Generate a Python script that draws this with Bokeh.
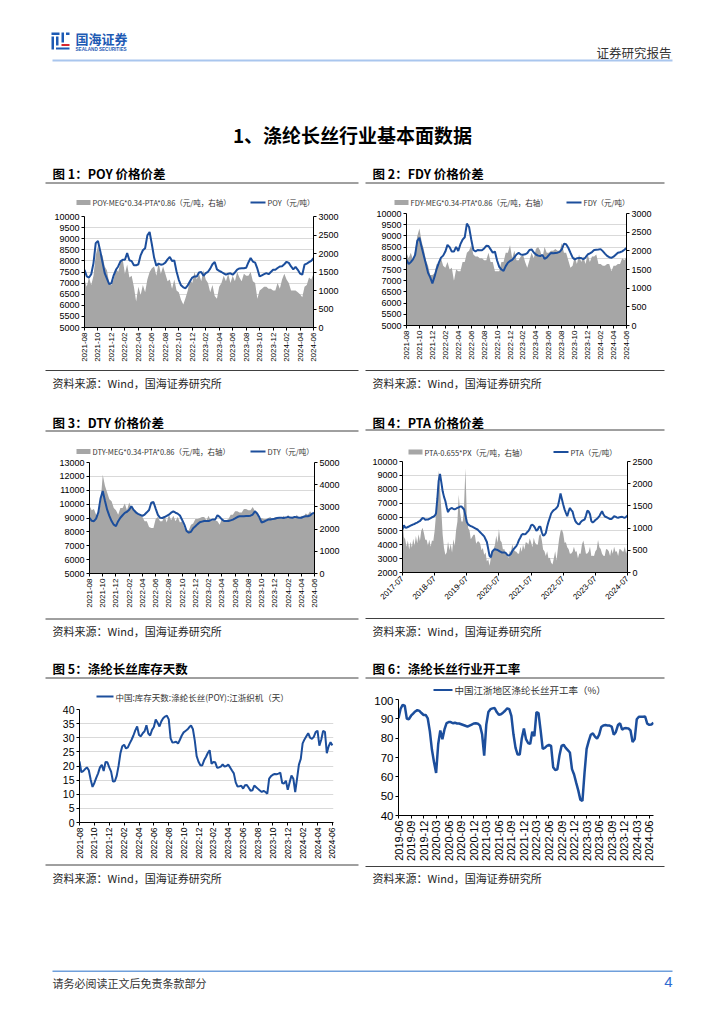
import math
import numpy as np
from bokeh.plotting import figure
from bokeh.models import Range1d, LinearAxis, FixedTicker, Spacer
from bokeh.layouts import column, row
from bokeh.embed import file_html
from bokeh.resources import INLINE
from bokeh.core.properties import value

# ---------------- data ----------------
# charts 1,2,3,5: x = months since 2021-08 ; chart 4: months since 2017-07 ; chart 6: months since 2019-06
c1_labels = ["2021-08", "2021-10", "2021-12", "2022-02", "2022-04", "2022-06", "2022-08", "2022-10", "2022-12",
             "2023-02", "2023-04", "2023-06", "2023-08", "2023-10", "2023-12", "2024-02", "2024-04", "2024-06"]
c4_labels = ["2017-07", "2018-07", "2019-07", "2020-07", "2021-07", "2022-07", "2023-07", "2024-07"]
c6_labels = ["2019-06", "2019-09", "2019-12", "2020-03", "2020-06", "2020-09", "2020-12", "2021-03", "2021-06",
             "2021-09", "2021-12", "2022-03", "2022-06", "2022-09", "2022-12", "2023-03", "2023-06", "2023-09",
             "2023-12", "2024-03", "2024-06"]

y_left_12 = [5000, 5500, 6000, 6500, 7000, 7500, 8000, 8500, 9000, 9500, 10000]
y_right_12 = [0, 500, 1000, 1500, 2000, 2500, 3000]
y_left_3 = [5000, 6000, 7000, 8000, 9000, 10000, 11000, 12000, 13000]
y_right_3 = [0, 1000, 2000, 3000, 4000, 5000]
y_left_4 = [2000, 3000, 4000, 5000, 6000, 7000, 8000, 9000, 10000]
y_right_4 = [0, 500, 1000, 1500, 2000, 2500]
y_5 = [0, 5, 10, 15, 20, 25, 30, 35, 40]
y_6 = [40, 50, 60, 70, 80, 90, 100]

# POY price (left axis) and spread (right axis), every 1/3 month
poy_price = [7600, 7300, 7250, 7400, 7900, 8800, 8900, 8450, 7950, 7450,
             7200, 6950, 7000, 7350, 7600, 7750, 7980, 8050, 8050, 8350,
             8030, 7990, 7800, 7800, 7850, 8250, 8480, 8570, 9150, 9300,
             8750, 8150, 7780, 7880, 7830, 7850, 7920, 8070, 8180, 8000,
             8020, 7520, 7150, 6900, 6810, 6770, 6900, 7080, 7250, 7300,
             7300, 7480, 7500, 7330, 7450, 7510, 7650, 7850, 7950, 7620,
             7550, 7500, 7440, 7380, 7420, 7440, 7380, 7480, 7610, 7660,
             7670, 7670, 7690, 7930, 8130, 7970, 7920, 7650, 7300, 7350,
             7400, 7450, 7400, 7500, 7600, 7600, 7680, 7750, 7760, 7850,
             7960, 7910, 7750, 7620, 7730, 7600, 7430, 7380, 7830, 7880,
             7940, 8000, 8120]
poy_spread = [1300, 1100, 1350, 1150, 1400, 1950, 2200, 1950, 1950, 1650,
              1550, 1200, 1150, 1300, 1600, 1500, 1750, 1850, 1450, 1700,
              1350, 1400, 1100, 700, 1100, 880, 1150, 950, 1300, 1500,
              1600, 1650, 1400, 1750, 1450, 1650, 1450, 1250, 1300, 1050,
              1300, 1000, 950, 750, 620, 800, 1000, 1300, 1200, 1500,
              1300, 1450, 1250, 1550, 1300, 1200, 950, 1150, 850, 780,
              1100, 1200, 1400, 1250, 1450, 1200, 1400, 1250, 1500, 1350,
              1250, 1450, 1400, 1400, 1500, 1250, 1200, 780, 1000, 1050,
              1100, 1100, 1050, 1050, 1000, 1000, 1200, 1050, 1300, 1450,
              1300, 1200, 1000, 1000, 1000, 950, 900, 820, 1100, 1150,
              1350, 1300, 1450]

fdy_price = [7940, 7740, 7830, 7950, 8150, 8780, 8920, 8500, 8130, 7750,
             7350, 7150, 6880, 7180, 7530, 7810, 8030, 8120, 8300, 8600,
             8500, 8300, 8300, 8510, 8330, 8630, 8830, 8940, 9550, 9400,
             8850, 8370, 8310, 8370, 8360, 8360, 8440, 8560, 8550, 8400,
             8250, 8300, 7900, 7620, 7500, 7440, 7650, 7800, 7880, 7930,
             8040, 8170, 8240, 8170, 8160, 8180, 8230, 8370, 8400, 8260,
             8170, 8120, 8100, 8150, 7980, 8030, 8140, 8240, 8230, 8240,
             8250, 8290, 8400, 8650, 8630, 8470, 8250, 8040, 7950, 8000,
             8010, 8010, 7960, 8040, 8170, 8220, 8280, 8370, 8380, 8390,
             8410, 8320, 8210, 8110, 8050, 8020, 8070, 8160, 8250, 8270,
             8310, 8380, 8460]
fdy_spread = [1950, 1800, 1950, 1750, 2000, 2400, 2600, 2250, 2050, 1750,
              1600, 1350, 1350, 1400, 1650, 1650, 1800, 1600, 1550, 1700,
              1500, 1550, 1200, 1500, 1450, 1450, 1700, 1700, 1950, 2000,
              2150, 1900, 1850, 1850, 1800, 1800, 1750, 1750, 1950, 1700,
              1700, 1450, 1450, 1450, 1700, 1700, 1950, 1950, 2150, 1800,
              2000, 1750, 1750, 1850, 1900, 1700, 1550, 1750, 1950, 1800,
              2050, 2100, 2000, 1800, 2100, 1950, 1950, 2000, 2000, 2050,
              2000, 2000, 2200, 1950, 1950, 1750, 1550, 1600, 1850, 1650,
              1900, 1700, 1850, 1650, 1900, 1700, 1850, 1850, 1900, 1650,
              1650, 1600, 1600, 1650, 1650, 1450, 1600, 1600, 1650, 1650,
              1800, 1750, 1850]

dty_price = [9010, 8800, 8770, 8950, 9400, 10400, 10950, 10250, 9600, 9150,
             8780, 8520, 8420, 8770, 9020, 9200, 9370, 9450, 9600, 9850,
             9580, 9400, 9300, 9230, 9150, 9250, 9410, 9580, 10100, 10150,
             9680, 9230, 9010, 9000, 9070, 9150, 9240, 9380, 9470, 9380,
             9310, 9180, 8860, 8520, 8060, 7950, 8010, 8260, 8400, 8560,
             8690, 8740, 8780, 8790, 8780, 8850, 8900, 8900, 9200, 9080,
             8900, 8780, 8780, 8780, 8830, 8880, 8970, 9070, 9130, 9130,
             9130, 9140, 9150, 9170, 9250, 9480, 9330, 9050, 8680, 8730,
             8810, 8890, 8900, 8920, 8950, 9000, 9010, 9010, 9000, 9030,
             9080, 9030, 9020, 9080, 9050, 9020, 9010, 9090, 9130, 9130,
             9180, 9330, 9370]
dty_spread = [3050, 2850, 2900, 2650, 2650, 3150, 4450, 3950, 3650, 3350,
              3250, 2950, 2850, 2650, 2950, 2950, 3150, 2850, 3200, 2950,
              2850, 2850, 2650, 2650, 2550, 2350, 2350, 2100, 2050, 2050,
              2450, 2550, 2350, 2350, 2600, 2300, 2650, 2400, 2600, 2350,
              2550, 2300, 2350, 2050, 1950, 1950, 2200, 2250, 2450, 2450,
              2500, 2550, 2550, 2400, 2600, 2350, 2400, 2400, 2350, 2200,
              2450, 2400, 2400, 2450, 2650, 2650, 2800, 2800, 2750, 2750,
              2900, 2900, 2850, 2850, 3000, 2800, 2750, 2450, 2500, 2450,
              2450, 2500, 2550, 2400, 2550, 2500, 2500, 2450, 2600, 2450,
              2650, 2500, 2550, 2500, 2650, 2450, 2600, 2550, 2700, 2650,
              2800, 2650, 2850]

# PTA, every 1/2 month from 2017-07
pta_price = [5110, 5400, 5250, 5230, 5280, 5330, 5380, 5420, 5470, 5500,
             5560, 5600, 5660, 5710, 5820, 5930, 5900, 5800, 5820, 5820,
             5870, 5920, 5980, 6020, 6080, 6250, 7300, 8600, 9100, 8500,
             7850, 7450, 7150, 6700, 6350, 6540, 6620, 6650, 6580, 6560,
             6600, 6650, 6700, 6750, 6760, 6650, 6540, 6100, 5650, 5470,
             5400, 5350, 5300, 5250, 5200, 5150, 5100, 5000, 4900, 4800,
             4700, 4600, 4400, 4200, 3700, 3200, 3100, 3500, 3620, 3680,
             3650, 3620, 3560, 3500, 3450, 3440, 3440, 3420, 3300, 3220,
             3250, 3350, 3550, 3680, 3800, 3900, 4100, 4350, 4520, 4720,
             4780, 4750, 4780, 4900, 4990, 5150, 5400, 5450, 5360, 5200,
             5000, 5100, 5300, 5300, 4900, 4650, 4700, 4850, 5300, 5650,
             5950, 6250, 6400, 6500, 6560, 6650, 6780, 7200, 7700, 7300,
             6900, 6550, 6300, 6060, 6400, 6650, 6500, 6380, 6000, 5720,
             5580, 5500, 5470, 5620, 5720, 5780, 5820, 6100, 6450, 6400,
             6200, 5700, 5600, 5680, 5780, 5850, 5950, 6060, 6250, 6420,
             6200, 6050, 6000, 5950, 5900, 5850, 5850, 5950, 6050, 6020,
             5970, 5950, 5980, 6000, 6010, 5970, 5950, 6020, 6100]
pta_spread = [1250, 800, 750, 580, 720, 520, 690, 560, 760, 610,
              820, 660, 860, 710, 940, 1010, 890, 740, 740, 610,
              740, 580, 720, 710, 940, 1300, 1700, 2300, 1900, 1400,
              850, 550, 400, 450, 700, 500, 650, 450, 750, 600,
              950, 1150, 1750, 1350, 1150, 1150, 1550, 2350, 1300, 1000,
              950, 750, 800, 850, 850, 650, 700, 700, 650, 500,
              550, 400, 450, 250, 300, 150, 330, 420, 530, 620,
              830, 670, 980, 720, 680, 520, 530, 420, 430, 320,
              480, 470, 630, 520, 480, 470, 430, 420, 580, 470,
              630, 520, 680, 670, 630, 770, 680, 570, 780, 670,
              630, 620, 830, 870, 730, 520, 480, 370, 480, 320,
              330, 220, 180, 320, 480, 270, 530, 770, 930, 970,
              880, 670, 680, 570, 530, 420, 430, 470, 580, 470,
              480, 320, 430, 420, 630, 720, 580, 420, 430, 470,
              580, 370, 380, 370, 480, 520, 730, 570, 530, 420,
              380, 370, 530, 520, 480, 370, 530, 420, 580, 470,
              480, 370, 530, 520, 480, 470, 580, 420, 550]

# inventory days, every 1/4 month from 2021-08
inv_days = [21.6, 17.8, 18.2, 18.9, 19.5, 18.5, 15.2, 12.6, 14.0, 15.8,
            17.4, 19.5, 20.4, 18.2, 21.4, 21.3, 19.5, 18.0, 14.5, 14.6,
            16.5, 20.0, 24.5, 27.0, 27.5, 26.2, 26.6, 28.0, 29.3, 30.8,
            32.6, 34.0, 31.0, 30.5, 31.6, 32.3, 34.4, 31.5, 30.8, 32.8,
            33.8, 36.5, 35.3, 34.0, 35.8, 36.9, 37.5, 37.8, 36.5, 29.8,
            28.3, 28.4, 28.6, 27.9, 29.3, 30.8, 31.9, 32.4, 32.9, 33.7,
            34.4, 33.0, 29.0, 23.5, 21.5, 20.3, 20.2, 22.0, 23.2, 24.6,
            25.6, 20.8, 21.4, 21.3, 19.4, 19.5, 19.8, 20.6, 19.8, 20.0,
            20.5, 19.5, 18.4, 17.4, 14.2, 12.7, 12.8, 13.0, 12.0, 13.2,
            13.3, 12.3, 11.2, 11.4, 13.1, 12.5, 11.9, 11.3, 10.8, 11.2,
            10.8, 10.2, 15.5, 16.4, 16.9, 17.2, 17.1, 17.3, 17.6, 14.0,
            13.8, 14.8, 11.6, 14.2, 16.6, 15.5, 10.8, 15.5, 20.5, 22.5,
            28.0, 29.4, 30.5, 31.6, 30.0, 29.6, 30.3, 32.0, 32.5, 27.2,
            29.3, 32.4, 32.1, 24.5, 27.0, 28.4, 27.3]

# operating rate, every 1/2 month from 2019-06
op_rate = [90.3, 95.2, 97.2, 96.8, 90.0, 89.8, 91.6, 92.7, 93.8, 94.5,
           94.1, 93.0, 92.0, 92.0, 90.2, 83.5, 74.0, 67.5, 62.0, 77.0,
           84.0, 79.5, 84.5, 87.8, 88.3, 88.3, 87.7, 88.0, 87.6, 87.6,
           87.2, 86.8, 86.4, 86.0, 86.5, 87.0, 87.6, 87.7, 87.5, 86.5,
           82.0, 71.0, 87.0, 93.5, 95.0, 95.4, 95.6, 93.5, 92.1, 92.4,
           93.2, 94.2, 95.4, 95.0, 91.5, 82.0, 75.0, 71.5, 71.5, 80.0,
           85.0, 79.5, 77.5, 77.0, 83.3, 81.0, 93.5, 93.0, 84.0, 74.5,
           75.0, 76.0, 76.5, 76.0, 65.0, 63.5, 63.9, 71.0, 76.0, 76.6,
           75.0, 73.8, 72.6, 64.0, 61.2, 57.0, 53.0, 48.2, 47.5, 62.0,
           74.5, 78.5, 81.8, 82.5, 80.8, 79.8, 81.8, 85.8, 86.6, 86.8,
           86.6, 86.5, 86.0, 81.8, 83.2, 86.8, 87.7, 84.4, 85.1, 85.2,
           85.0, 84.0, 78.0, 79.5, 89.8, 91.1, 91.1, 91.1, 91.2, 87.5,
           86.9, 87.1, 88.0]

# ---------------- styling helpers ----------------
CJK = "Noto Sans CJK SC"
LAT = "Liberation Sans"
BLUE = "#1C4E9C"
GRAY = "#A6A6A6"
TXT = "#262626"


def no_align(p):
    try:
        p.frame_align = False
    except Exception:
        pass


def canvas(x0, y0, w, h):
    p = figure(width=w, height=h, x_range=Range1d(x0, x0 + w), y_range=Range1d(y0 + h, y0),
               output_backend="svg", toolbar_location=None, x_axis_type=None, y_axis_type=None,
               min_border_left=0, min_border_right=0, min_border_top=0, min_border_bottom=0)
    p.outline_line_color = None
    p.background_fill_color = "white"
    p.border_fill_color = "white"
    no_align(p)
    return p


def txt(p, x, y, s, size, color=TXT, bold=False, align="left", font=CJK):
    p.text(x=[x], y=[y], text=[s], text_font=value(font), text_font_size=f"{size}px",
           text_color=color, text_font_style="bold" if bold else "normal",
           text_align=align, text_baseline="middle")


def hline(p, x0, x1, y, color="#404040", width=1):
    p.segment(x0=[x0], y0=[y], x1=[x1], y1=[y], line_color=color, line_width=width)


def box(p, x0, y0, x1, y1, color):
    p.quad(left=[x0], right=[x1], top=[y0], bottom=[y1], fill_color=color, line_color=None)


def leg_area(p, x, y, label, size=7.5):
    box(p, x, y - 2.5, x + 14, y + 2.5, GRAY)
    txt(p, x + 16, y, label, size, "#333333")


def leg_line(p, x, y, label, w=15, size=7.5):
    p.segment(x0=[x], y0=[y], x1=[x + w], y1=[y], line_color=BLUE, line_width=2.2)
    txt(p, x + w + 2, y, label, size, "#333333")


def style_ax(ax, size):
    ax.axis_line_color = "#000000"
    ax.axis_line_width = 1
    ax.major_tick_line_color = "#000000"
    ax.major_tick_in = 0
    ax.major_tick_out = 3
    ax.minor_tick_line_color = None
    ax.major_label_text_font = LAT
    ax.major_label_text_font_size = size
    ax.major_label_text_color = "#000000"
    ax.major_label_standoff = 2


def base_chart(w, h, mb, xr, ylist, xticks, xlabels, orient, xsize, ysize, grid=True):
    p = figure(width=w, height=h, x_range=Range1d(*xr), y_range=Range1d(ylist[0], ylist[-1]),
               output_backend="svg", toolbar_location=None,
               min_border_left=mb[0], min_border_right=mb[1], min_border_top=mb[2], min_border_bottom=mb[3])
    no_align(p)
    p.outline_line_color = None
    p.background_fill_color = "white"
    p.border_fill_color = "white"
    p.xgrid.visible = False
    yt = FixedTicker(ticks=ylist)
    p.yaxis.ticker = yt
    p.ygrid.ticker = yt
    if grid:
        p.ygrid.grid_line_color = "#D9D9D9"
        p.ygrid.grid_line_width = 1
    else:
        p.ygrid.visible = False
    p.xaxis.ticker = FixedTicker(ticks=xticks)
    p.xaxis.major_label_overrides = {t: l for t, l in zip(xticks, xlabels)}
    p.xaxis.major_label_orientation = orient
    style_ax(p.xaxis, xsize)
    style_ax(p.yaxis, ysize)
    return p


def dual_chart(w, h, mb, xmax, xticks, xlabels, orient, yl, yr, line_vals, area_vals, step):
    p = base_chart(w, h, mb, (0, xmax), yl, xticks, xlabels, orient, "8px", "9px")
    p.extra_y_ranges = {"r": Range1d(yr[0], yr[-1])}
    xa = np.arange(len(area_vals)) * step
    p.varea(x=xa, y1=np.zeros(len(xa)), y2=area_vals, y_range_name="r", fill_color=GRAY)
    xl = np.arange(len(line_vals)) * step
    p.line(xl, line_vals, line_color=BLUE, line_width=2)
    ra = LinearAxis(y_range_name="r", ticker=FixedTicker(ticks=yr))
    style_ax(ra, "9px")
    p.add_layout(ra, "right")
    return p


t2 = list(range(0, 35, 2))
c1 = dual_chart(356, 156, (76, 51, 6, 39), 34, t2, c1_labels, math.pi / 2,
                y_left_12, y_right_12, poy_price, poy_spread, 1 / 3)
c2 = dual_chart(352, 157, (42, 90, 4, 41), 34, t2, c1_labels, math.pi / 2,
                y_left_12, y_right_12, fdy_price, fdy_spread, 1 / 3)
c3 = dual_chart(356, 154, (81, 50, 4, 39), 34, t2, c1_labels, math.pi / 2,
                y_left_3, y_right_3, dty_price, dty_spread, 1 / 3)
c4 = dual_chart(352, 154, (38, 89, 3, 40), 84, list(range(0, 85, 12)), c4_labels, math.pi / 4,
                y_left_4, y_right_4, pta_price, pta_spread, 1 / 2)

c5 = base_chart(356, 157, (71, 31, 5, 38), (0, 34.15), y_5, t2, c1_labels, math.pi / 2, "8.5px", "10.5px")
c5.line(np.arange(len(inv_days)) * 0.25, inv_days, line_color=BLUE, line_width=2)

c6 = base_chart(352, 167, (34, 63, 3, 48), (0, 61), y_6, list(range(0, 61, 3)), c6_labels, math.pi / 2,
                "11px", "11.5px", grid=False)
c6.line(np.arange(len(op_rate)) * 0.5, op_rate, line_color=BLUE, line_width=2.5)

# ---------------- page furniture ----------------
head = canvas(8, 8, 708, 144)
box(head, 51, 32, 59, 34.5, "#1D5AB4")
box(head, 51, 36, 53.5, 49, "#1D5AB4")
box(head, 55.5, 36, 58, 45, "#1D5AB4")
box(head, 61, 32, 63.5, 42, "#1D5AB4")
box(head, 65.5, 32, 69, 34.5, "#1D5AB4")
box(head, 61, 43.5, 69, 45.5, "#D9262C")
box(head, 55.5, 47, 69, 49, "#1D5AB4")
txt(head, 75, 37.5, "国海证券", 13, "#1D5AB4", bold=True)
txt(head, 75, 48.5, "SEALAND SECURITIES", 4.6, "#1D5AB4", bold=True, font=LAT)
txt(head, 671, 52, "证券研究报告", 12.5, "#333333", align="right")
hline(head, 52, 672, 60, "#A9C6EE", 2)
txt(head, 352, 134, "1、涤纶长丝行业基本面数据", 19, "#000000", bold=True, align="center")

L0 = canvas(8, 152, 356, 58)
txt(L0, 52, 173, "图 1：POY 价格价差", 12.5, "#000000", bold=True)
hline(L0, 45, 358, 182.5)
leg_area(L0, 76, 202, "POY-MEG*0.34-PTA*0.86（元/吨，右轴）")
leg_line(L0, 250, 202, "POY（元/吨）")

R0 = canvas(364, 152, 352, 57)
txt(R0, 372, 173, "图 2：FDY 价格价差", 12.5, "#000000", bold=True)
hline(R0, 365, 664, 182.5)
leg_area(R0, 394, 202, "FDY-MEG*0.34-PTA*0.86（元/吨，右轴）")
leg_line(R0, 566, 202, "FDY（元/吨）")

SRC = "资料来源：Wind，国海证券研究所"

L1 = canvas(8, 366, 356, 92)
hline(L1, 45, 358, 370)
txt(L1, 52, 382, SRC, 11)
txt(L1, 52, 421.5, "图 3：DTY 价格价差", 12.5, "#000000", bold=True)
hline(L1, 45, 358, 430.5)
leg_area(L1, 76, 451, "DTY-MEG*0.34-PTA*0.86（元/吨，右轴）")
leg_line(L1, 250, 451, "DTY（元/吨）")

R1 = canvas(364, 366, 352, 92)
hline(R1, 365, 664, 370)
txt(R1, 372, 382, SRC, 11)
txt(R1, 372, 421.5, "图 4：PTA 价格价差", 12.5, "#000000", bold=True)
hline(R1, 365, 664, 429.5)
leg_area(R1, 408, 451.5, "PTA-0.655*PX（元/吨，右轴）")
leg_line(R1, 553, 451.5, "PTA（元/吨）")

L2 = canvas(8, 612, 356, 92)
hline(L2, 45, 358, 618.5)
txt(L2, 52, 630, SRC, 11)
txt(L2, 52, 668, "图 5：涤纶长丝库存天数", 12.5, "#000000", bold=True)
hline(L2, 45, 358, 677.5)
leg_line(L2, 96, 696, "中国:库存天数:涤纶长丝(POY):江浙织机（天）", w=17, size=8.5)

R2 = canvas(364, 612, 352, 84)
hline(R2, 365, 664, 618)
txt(R2, 372, 630, SRC, 11)
txt(R2, 372, 668, "图 6：涤纶长丝行业开工率", 12.5, "#000000", bold=True)
hline(R2, 365, 664, 677.5)
leg_line(R2, 433, 689.5, "中国江浙地区涤纶长丝开工率（%）", w=19, size=9.5)

L3 = canvas(8, 861, 356, 29)
hline(L3, 45, 358, 864.5)
txt(L3, 52, 877, SRC, 11)

R3 = canvas(364, 863, 352, 27)
hline(R3, 365, 664, 866)
txt(R3, 372, 877, SRC, 11)

foot = canvas(8, 890, 708, 110)
hline(foot, 52, 672, 970.7, "#6F9FDB", 1.5)
txt(foot, 52, 982, "请务必阅读正文后免责条款部分", 11, "#333333")
txt(foot, 672, 981, "4", 15, "#2F6BD0", align="right", font=LAT)

left_col = column(L0, c1, L1, c3, L2, c5, L3, spacing=0)
right_col = column(R0, c2, R1, c4, R2, c6, R3, spacing=0)
content = column(head, row(left_col, right_col, spacing=0), foot, spacing=0)
page = column(Spacer(width=716, height=8), row(Spacer(width=8, height=992), content, spacing=0), spacing=0)

open("out.html", "w").write(file_html(page, INLINE))
